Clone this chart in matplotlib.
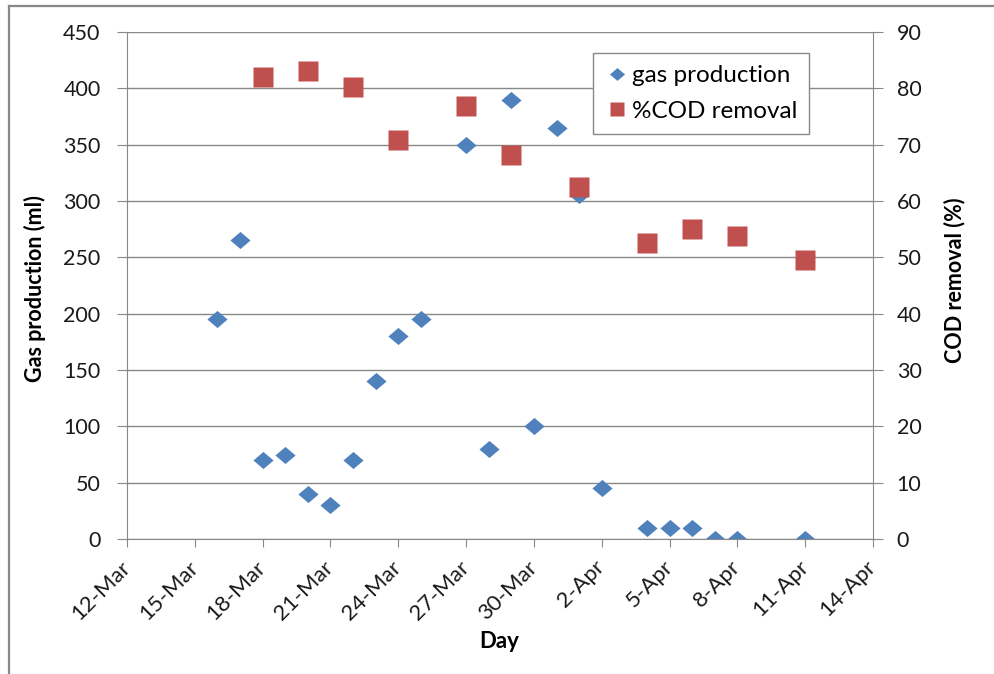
import matplotlib
matplotlib.use("Agg")
import matplotlib.pyplot as plt
import matplotlib.lines as mlines
import matplotlib.transforms as mtransforms
import pandas as pd

# gas production (ml) per sampling day
gas_days = ["16-Mar", "17-Mar", "18-Mar", "19-Mar", "20-Mar", "21-Mar", "22-Mar",
            "23-Mar", "24-Mar", "25-Mar", "27-Mar", "28-Mar", "29-Mar", "30-Mar",
            "31-Mar", "1-Apr", "2-Apr", "4-Apr", "5-Apr", "6-Apr", "7-Apr",
            "8-Apr", "11-Apr"]
gas_ml = [195, 265, 70, 75, 40, 30, 70, 140, 180, 195, 350, 80, 390, 100,
          365, 305, 45, 10, 10, 10, 0, 0, 0]

# %COD removal
cod_days = ["18-Mar", "20-Mar", "22-Mar", "24-Mar", "27-Mar", "29-Mar",
            "1-Apr", "4-Apr", "6-Apr", "8-Apr", "11-Apr"]
cod_pct = [82, 83, 80.2, 70.8, 76.8, 68.1, 62.4, 52.6, 55, 53.7, 49.6]

tick_labels = ["12-Mar", "15-Mar", "18-Mar", "21-Mar", "24-Mar", "27-Mar",
               "30-Mar", "2-Apr", "5-Apr", "8-Apr", "11-Apr", "14-Apr"]
gas_ticks = [0, 50, 100, 150, 200, 250, 300, 350, 400, 450]
cod_ticks = [0, 10, 20, 30, 40, 50, 60, 70, 80, 90]


def to_dates(labels):
    return pd.to_datetime([l + "-2010" for l in labels], format="%d-%b-%Y")


GRID = "#888888"
BLUE = "#4F81BD"
RED = "#C0504D"
TXT = "#1a1a1a"
plt.rcParams["font.family"] = ["Lato", "DejaVu Sans"]

fig = plt.figure(figsize=(9.95, 6.74), dpi=100)

# outer chart border (top and left edges)
fig.add_artist(mlines.Line2D([9 / 995, 1.0], [1 - 6 / 674, 1 - 6 / 674],
                             transform=fig.transFigure, color=GRID, lw=1.6))
fig.add_artist(mlines.Line2D([9 / 995, 9 / 995], [0, 1 - 6 / 674],
                             transform=fig.transFigure, color=GRID, lw=1.6))

ax = fig.add_axes([127 / 995, 1 - 539 / 674, 746 / 995, 507 / 674])
ax2 = ax.twinx()

xt = to_dates(tick_labels)
ax.set_xlim(xt[0], xt[-1])
ax.set_xticks(xt)
ax.set_xticklabels(tick_labels, rotation=45, ha="right", va="center",
                   rotation_mode="anchor", fontsize=16, color=TXT)
shift = mtransforms.ScaledTranslation(5 / 100, 0, fig.dpi_scale_trans)
for lbl in ax.get_xticklabels():
    lbl.set_transform(lbl.get_transform() + shift)

ax.set_ylim(0, 450)
ax.set_yticks(gas_ticks)
ax.set_yticklabels([str(v) for v in gas_ticks], fontsize=15.5, color=TXT)
ax2.set_ylim(0, 90)
ax2.set_yticks(cod_ticks)
ax2.set_yticklabels([str(v) for v in cod_ticks], fontsize=15.5, color=TXT)

ax.grid(axis="y", color=GRID, lw=1.0)
ax.set_axisbelow(True)
for a in (ax, ax2):
    for s in a.spines.values():
        s.set_visible(False)
ax.spines["left"].set_visible(True)
ax.spines["left"].set_color(GRID)
ax.spines["bottom"].set_visible(True)
ax.spines["bottom"].set_color(GRID)
ax2.spines["right"].set_visible(True)
ax2.spines["right"].set_color(GRID)

ax.tick_params(axis="y", length=7, color=GRID, pad=12)
ax.tick_params(axis="x", length=6, color=GRID, pad=12)
ax2.tick_params(axis="y", length=7, color=GRID, pad=10)

diamond = [(-1, 0), (0, 0.85), (1, 0), (0, -0.85), (-1, 0)]
h1, = ax.plot(to_dates(gas_days), gas_ml, ls="none", marker=diamond,
              ms=14.5, color=BLUE, mec="none", label="gas production")
h2, = ax2.plot(to_dates(cod_days), cod_pct, ls="none", marker="s",
               ms=14, color=RED, mec="none", label="%COD removal")

leg = ax2.legend([h1, h2], ["gas production", "%COD removal"],
                 loc="upper left", bbox_to_anchor=(593 / 995, 1 - 53 / 674),
                 bbox_transform=fig.transFigure, fancybox=False, framealpha=1,
                 edgecolor=GRID, prop={"size": 17.5},
                 handletextpad=0.1, handlelength=1.0, borderpad=0.5,
                 borderaxespad=0, labelspacing=0.6, markerscale=0.75)
leg.get_frame().set_linewidth(1.0)

fig.text(35 / 995, 1 - 289 / 674, "Gas production (ml)", rotation=90,
         ha="center", va="center", fontsize=15.5, fontweight="bold")
fig.text(955 / 995, 1 - 280 / 674, "COD removal (%)", rotation=90,
         ha="center", va="center", fontsize=15.5, fontweight="bold")
fig.text(499 / 995, 1 - 641 / 674, "Day", ha="center", va="center",
         fontsize=16, fontweight="bold")

fig.savefig("out.png", dpi=100)
